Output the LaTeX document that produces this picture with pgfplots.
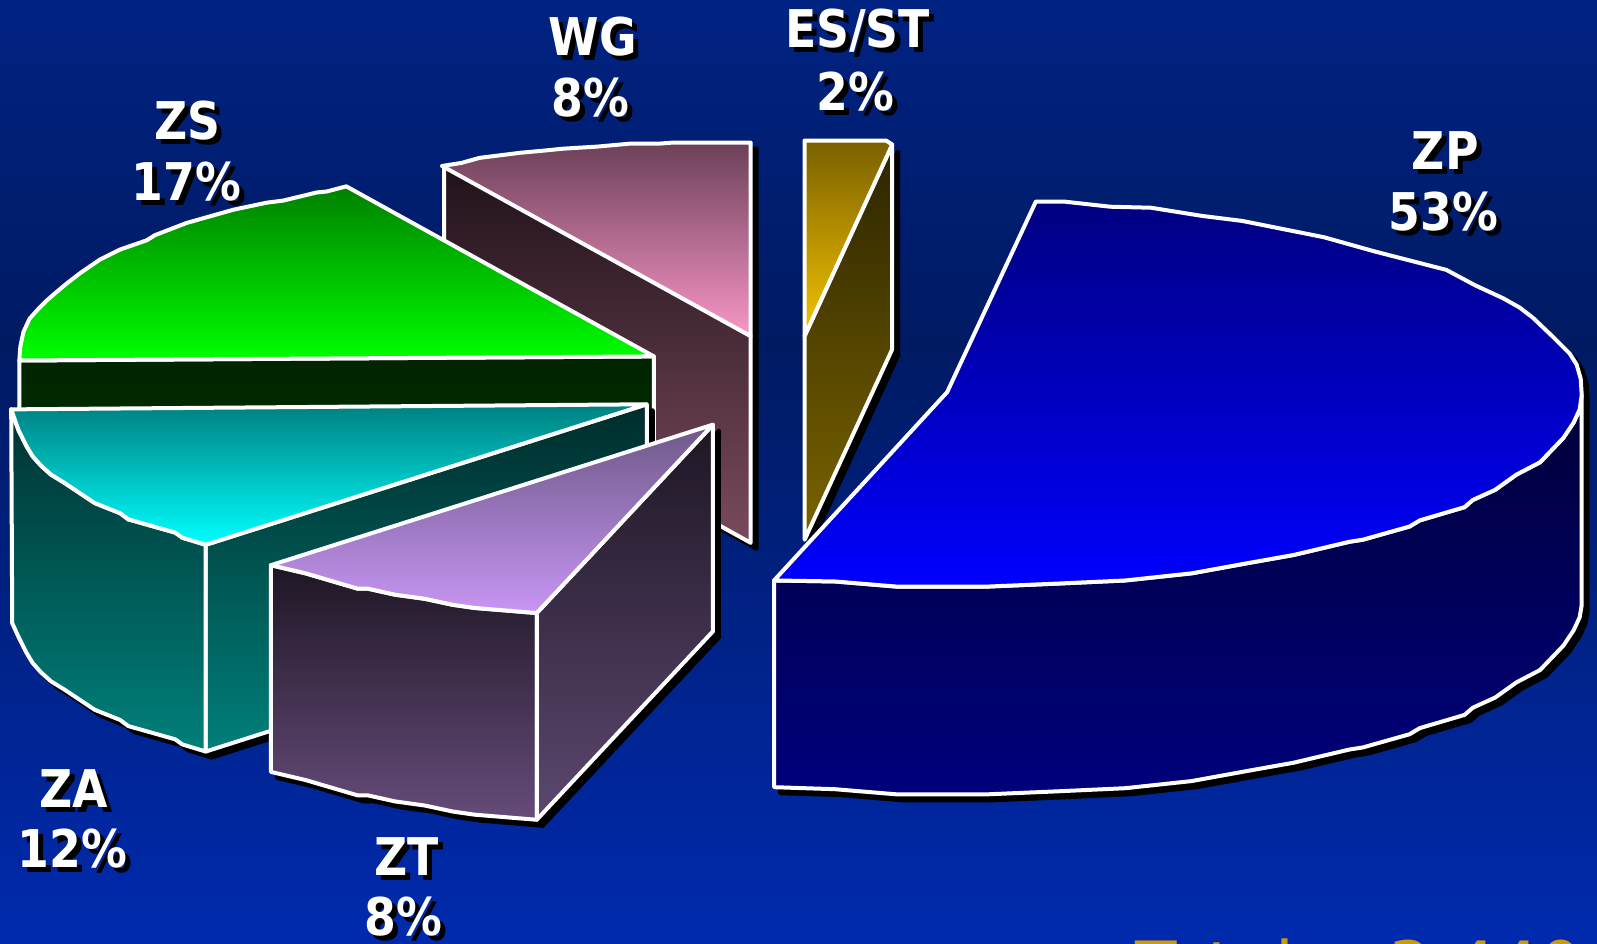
\documentclass[border=0pt]{standalone}
\usepackage{pgfplots}
\pgfplotsset{compat=1.18}
\usepackage{pgfplotstable}
\usepackage{fontspec}
\newfontfamily\lab[FakeStretch=0.88]{DejaVu Sans Bold}
\newfontfamily\totalfont{DejaVu Sans}

\definecolor{bgtop}{RGB}{0,34,130}
\definecolor{bgmid}{RGB}{0,26,98}
\definecolor{bgbot}{RGB}{0,42,174}
\definecolor{wgsideA}{RGB}{32,18,26}
\definecolor{wgsideB}{RGB}{122,74,94}
\definecolor{wgtopA}{RGB}{108,64,88}
\definecolor{wgtopB}{RGB}{248,150,198}
\definecolor{zssideA}{RGB}{0,36,0}
\definecolor{zssideB}{RGB}{0,60,0}
\definecolor{zstopA}{RGB}{0,128,0}
\definecolor{zstopB}{RGB}{0,255,0}
\definecolor{zainA}{RGB}{0,44,44}
\definecolor{zasideB}{RGB}{0,128,122}
\definecolor{zaoutA}{RGB}{0,50,50}
\definecolor{zatopA}{RGB}{0,128,128}
\definecolor{zatopB}{RGB}{0,255,255}
\definecolor{ztsideA}{RGB}{30,22,36}
\definecolor{ztfrontB}{RGB}{102,76,122}
\definecolor{ztsideB}{RGB}{92,72,112}
\definecolor{zttopA}{RGB}{110,88,136}
\definecolor{zttopB}{RGB}{200,150,245}
\definecolor{essideA}{RGB}{44,36,0}
\definecolor{essideB}{RGB}{122,100,0}
\definecolor{estopA}{RGB}{122,96,0}
\definecolor{estopB}{RGB}{245,196,0}
\definecolor{zpsideA}{RGB}{0,0,56}
\definecolor{zpsideB}{RGB}{0,0,124}
\definecolor{zptopA}{RGB}{0,0,128}
\definecolor{zptopB}{RGB}{0,0,255}
\definecolor{totalgold}{RGB}{205,155,10}

% ---- outlines of the slices, one table per face ----
\pgfplotstableread{
x y
1017 198
1045 198
1090 203
1130 204
1180 212
1220 217
1270 227
1300 233
1350 247
1420 265
1448 280
1476 293
1492 302
1505 312
1525 331
1541 347
1548 358
1552 372
1553 388
1551 402
1545 415
1535 430
1512 454
1489 466
1468 481
1446 491
1438 498
1394 511
1384 517
1338 530
1325 532
1270 545
1225 553
1170 563
1105 570
1040 573
970 576
880 576
820 571
760 570
930 385
1017 198
}\zptop
\pgfplotstableread{
x y
760 570
820 571
880 576
970 576
1040 573
1105 570
1170 563
1225 553
1270 545
1325 532
1338 530
1384 517
1394 511
1438 498
1446 491
1468 481
1489 466
1512 454
1535 430
1545 415
1551 402
1553 388
1553 594
1551 606
1545 619
1535 634
1512 658
1489 670
1468 685
1446 695
1438 702
1394 715
1384 721
1338 734
1325 736
1270 749
1225 757
1170 767
1105 774
1040 777
970 780
880 780
820 775
760 773
760 570
}\zpside
\pgfplotstableread{
x y
790 138
870 138
876 142
790 330
790 138
}\estop
\pgfplotstableread{
x y
876 142
876 343
790 530
790 330
876 142
}\esside
\pgfplotstableread{
x y
434 163
453 160
471 155
511 150
533 148
553 146
586 144
619 141
648 141
661 140
737 140
737 330
434 163
}\wgtop
\pgfplotstableread{
x y
436 163
737 330
737 533
436 366
436 163
}\wgside
\pgfplotstableread{
x y
19 354
20 340
23 326
29 313
38 303
46 295
54 288
66 278
79 268
98 255
118 245
144 236
152 231
183 219
229 206
262 199
278 197
311 189
321 188
340 183
642 350
19 354
}\zstop
\pgfplotstableread{
x y
19 354
642 350
642 560
19 564
19 354
}\zsside
\pgfplotstableread{
x y
11 402
635 397
202 535
179 528
172 523
126 510
118 504
93 494
63 474
50 466
40 457
32 448
26 438
18 422
11 402
}\zatop
\pgfplotstableread{
x y
202 535
635 397
635 600
202 738
202 535
}\zainner
\pgfplotstableread{
x y
11 402
18 422
26 438
32 448
40 457
50 466
63 474
93 494
118 504
126 510
172 523
179 528
202 535
202 738
179 731
172 726
126 713
118 707
93 697
63 677
50 669
40 660
32 651
26 641
18 625
12 612
11 402
}\zaouter
\pgfplotstableread{
x y
266 555
700 417
527 602
466 597
445 594
417 588
388 584
361 578
351 578
300 563
266 555
}\zttop
\pgfplotstableread{
x y
266 555
300 563
351 578
361 578
388 584
417 588
445 594
466 597
527 602
527 805
466 800
445 797
417 791
388 787
361 781
351 781
300 766
266 758
266 555
}\ztfront
\pgfplotstableread{
x y
527 602
700 417
700 620
527 805
527 602
}\ztside

\tikzset{
  edge/.style={draw=white, line width=4pt, line join=round, line cap=round},
  drop/.style={draw=black, fill=black, line width=4pt, line join=round, shift={(6pt,-6pt)}},
  face/.style 2 args={edge, shade, top color=#1, bottom color=#2},
}

% a label with its black drop shadow
\newcommand{\biglabel}[3]{%
  \node[text=black, font=\lab\fontsize{52}{52}\selectfont] at (axis cs:#1+5,#2+5) {#3};
  \node[text=white, font=\lab\fontsize{52}{52}\selectfont] at (axis cs:#1,#2) {#3};
}

\begin{document}
\begin{tikzpicture}
\path[use as bounding box] (0,0) rectangle (1597pt,944pt);
\begin{axis}[
  at={(0,0)}, anchor=south west,
  scale only axis, width=1597pt, height=944pt,
  xmin=0, xmax=1568, ymin=0, ymax=927, y dir=reverse,
  hide axis, clip=false,
]
% backdrop
\addplot[draw=none, shade, top color=bgtop, bottom color=bgmid] coordinates {(0,0) (1568,0) (1568,340) (0,340) (0,0)};
\addplot[draw=none, shade, top color=bgmid, bottom color=bgbot] coordinates {(0,339) (1568,339) (1568,927) (0,927) (0,339)};

% WG
\addplot[drop] table {\wgside};
\addplot[drop] table {\wgtop};
\addplot[face={wgsideA}{wgsideB}] table {\wgside};
\addplot[face={wgtopA}{wgtopB}] table {\wgtop};

% ZS
\addplot[face={zssideA}{zssideB}] table {\zsside};
\addplot[face={zstopA}{zstopB}] table {\zstop};

% ZA
\addplot[drop] table {\zainner};
\addplot[drop] table {\zaouter};
\addplot[face={zainA}{zasideB}] table {\zainner};
\addplot[face={zaoutA}{zasideB}] table {\zaouter};
\addplot[face={zatopA}{zatopB}] table {\zatop};

% ZT
\addplot[drop] table {\ztfront};
\addplot[drop] table {\ztside};
\addplot[face={ztsideA}{ztfrontB}] table {\ztfront};
\addplot[face={ztsideA}{ztsideB}] table {\ztside};
\addplot[face={zttopA}{zttopB}] table {\zttop};

% ES/ST
\addplot[drop] table {\esside};
\addplot[face={essideA}{essideB}] table {\esside};
\addplot[face={estopA}{estopB}] table {\estop};

% ZP
\addplot[drop] table {\zpside};
\addplot[drop] table {\zptop};
\addplot[face={zpsideA}{zpsideB}] table {\zpside};
\addplot[face={zptopA}{zptopB}] table {\zptop};

% slice labels
\biglabel{582}{36}{WG}
\biglabel{580}{96}{8\%}
\biglabel{842}{30}{ES/ST}
\biglabel{840}{90}{2\%}
\biglabel{184}{118}{ZS}
\biglabel{183}{178}{17\%}
\biglabel{1419}{148}{ZP}
\biglabel{1417}{208}{53\%}
\biglabel{72}{774}{ZA}
\biglabel{71}{833}{12\%}
\biglabel{399}{841}{ZT}
\biglabel{396}{900}{8\%}

% total, running off the lower edge
\begin{scope}
\clip (axis cs:0,0) rectangle (axis cs:1568,927);
\node[overlay, anchor=base west, inner sep=0pt, text=totalgold, font=\totalfont\fontsize{68}{68}\selectfont] at (axis cs:1115,973) {Total:\hspace{42pt} 3,440};
\end{scope}
\end{axis}
\end{tikzpicture}
\end{document}
